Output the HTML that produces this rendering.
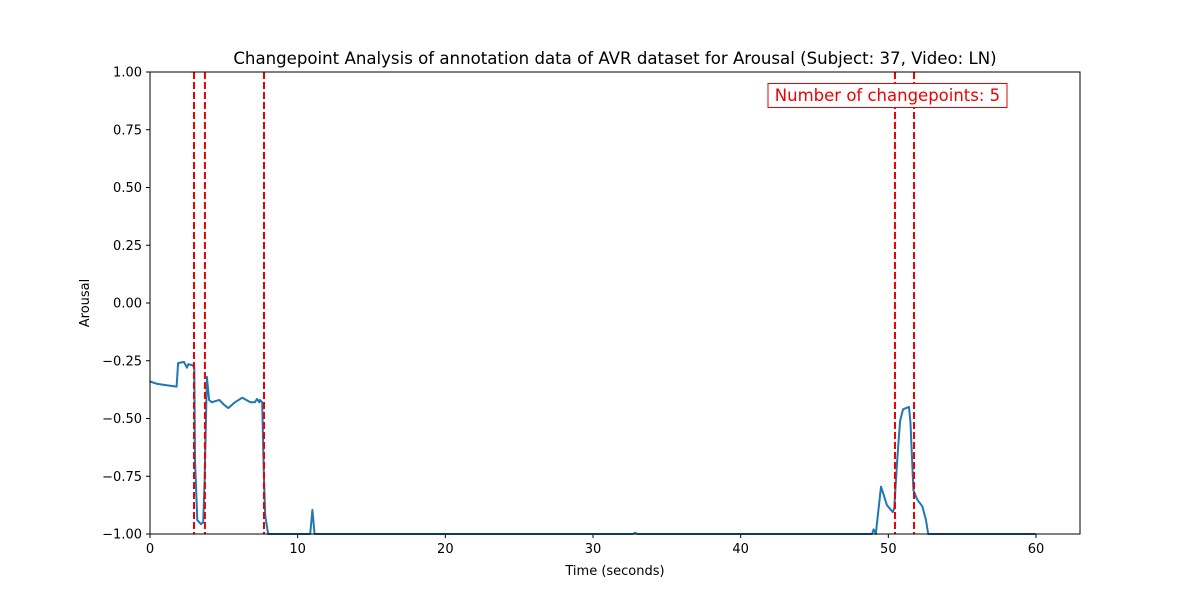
<!DOCTYPE html>
<html><head><meta charset="utf-8"><style>
body{margin:0;background:#fff;}
svg{display:block;font-family:"DejaVu Sans","Liberation Sans",sans-serif;}
</style></head><body>
<svg id="chart" width="1200" height="600">
<text x="615" y="64" font-size="16.6" text-anchor="middle">Changepoint Analysis of annotation data of AVR dataset for Arousal (Subject: 37, Video: LN)</text>
<text x="615" y="575" font-size="13" text-anchor="middle">Time (seconds)</text>
<text transform="translate(89,303) rotate(-90)" font-size="13" text-anchor="middle">Arousal</text>
<g id="grid"></g>
<g id="series"></g>
<g id="cps"></g>
<rect x="150" y="72" width="930" height="462" fill="none" stroke="#000" stroke-width="1"/>
<rect x="768" y="83.5" width="239" height="24" fill="#fff" stroke="#e00" stroke-width="1"/>
<text x="887.5" y="101" font-size="16.5" fill="#e00" text-anchor="middle">Number of changepoints: 5</text>
</svg>
<script>
const times=[0,0.5,1,1.8,1.9,2.3,2.5,2.6,2.9,3.0,3.05,3.2,3.45,3.6,3.7,3.85,4.0,4.2,4.4,4.7,5.0,5.3,5.75,6.25,6.8,7.1,7.25,7.4,7.45,7.6,7.7,7.8,8.0,10.85,11.0,11.15,32.7,32.85,33.0,48.9,49.0,49.1,49.15,49.5,49.9,50.3,50.4,50.6,50.8,51.0,51.2,51.4,51.5,51.7,51.95,52.3,52.55,52.7,60];
const values=[-0.34,-0.35,-0.355,-0.362,-0.26,-0.255,-0.28,-0.265,-0.27,-0.28,-0.68,-0.94,-0.957,-0.95,-0.77,-0.32,-0.42,-0.43,-0.425,-0.42,-0.44,-0.455,-0.43,-0.41,-0.43,-0.43,-0.415,-0.43,-0.42,-0.43,-0.72,-0.92,-1,-1,-0.896,-1,-1,-0.995,-1,-1,-0.98,-0.99,-1,-0.795,-0.875,-0.905,-0.89,-0.68,-0.51,-0.46,-0.455,-0.45,-0.52,-0.81,-0.85,-0.88,-0.94,-1,-1];
const changepoints=[2.98,3.72,7.72,50.45,51.74];
const xTicks=[0,10,20,30,40,50,60];
const yTicks=[-1,-0.75,-0.5,-0.25,0,0.25,0.5,0.75,1];
const X=t=>150+t*(886/60);
const Y=v=>534-(v+1)*231;
const NS="http://www.w3.org/2000/svg";
const grid=document.getElementById('grid');
function mk(tag,attrs,parent){const e=document.createElementNS(NS,tag);for(const k in attrs)e.setAttribute(k,attrs[k]);parent.appendChild(e);return e;}
xTicks.forEach(t=>{
  const l=mk('line',{x1:X(t),x2:X(t),y1:534,y2:538,stroke:'#000'},grid);
  
  
  const tx=mk('text',{x:X(t),y:553,'font-size':13,'text-anchor':'middle'},grid);
  tx.textContent=t;
  
  
});
yTicks.forEach(v=>{
  const l=mk('line',{x1:146,x2:150,y1:Y(v),y2:Y(v),stroke:'#000'},grid);
  
  
  const tx=mk('text',{x:142,y:Y(v)+4.5,'font-size':13,'text-anchor':'end'},grid);
  tx.textContent=v.toFixed(2).replace('-','\u2212');
  
  
});
const d=times.map((t,i)=>(i?'L':'M')+X(t).toFixed(1)+','+Y(values[i]).toFixed(1)).join('');
const p=mk('path',{d:d,fill:'none',stroke:'#1f77b4','stroke-width':2,'stroke-linejoin':'round'},document.getElementById('series'));


changepoints.forEach(c=>{
  const l=mk('line',{x1:X(c),x2:X(c),y1:72,y2:534,stroke:'#e00','stroke-width':2,'stroke-dasharray':'7,3'},document.getElementById('cps'));
  
  
});
</script>
</body></html>
